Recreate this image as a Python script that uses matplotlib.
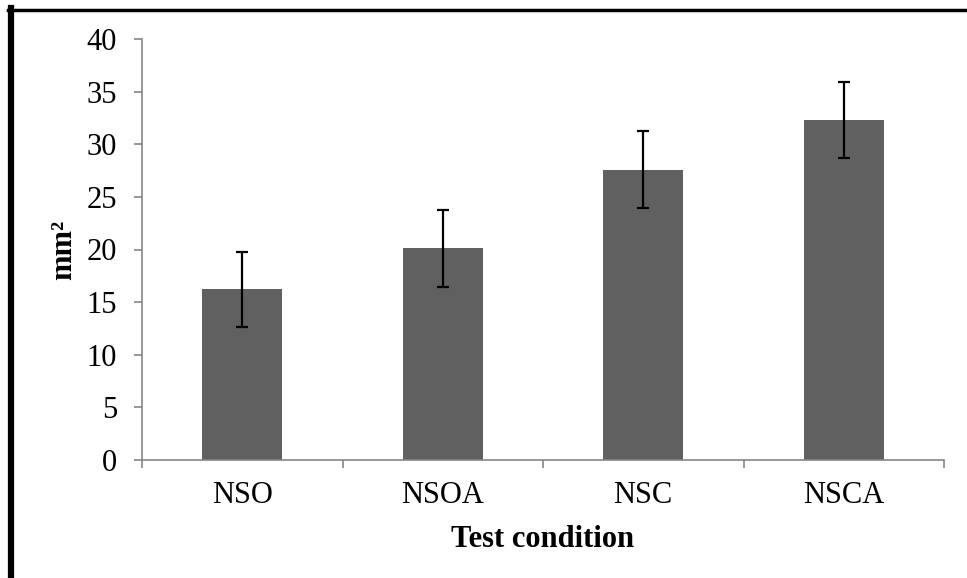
import matplotlib.pyplot as plt
from matplotlib.lines import Line2D
import numpy as np

categories = ['NSO', 'NSOA', 'NSC', 'NSCA']
means = [16.2, 20.1, 27.6, 32.3]
errors = [3.6, 3.65, 3.65, 3.65]
yticks = [0, 5, 10, 15, 20, 25, 30, 35, 40]

plt.rcParams['font.family'] = ['Liberation Serif', 'DejaVu Serif']

fig = plt.figure(figsize=(9.67, 5.78), dpi=100)
W, H = 967, 578
ax = fig.add_axes([142 / W, (H - 460) / H, (944 - 142) / W, (460 - 39) / H])

x = np.arange(len(categories))
ax.bar(x, means, width=0.4, color='#606060', zorder=2)
ax.errorbar(x, means, yerr=errors, fmt='none', ecolor='black',
            elinewidth=1.6, capsize=4.5, capthick=1.6, zorder=3)

ax.set_xlim(-0.5, len(categories) - 0.5)
ax.set_ylim(0, 40)
ax.set_yticks(yticks)
ax.set_xticks(x)
ax.set_xticklabels(categories)
ax.set_xticks(np.arange(len(categories) + 1) - 0.5, minor=True)
ax.tick_params(axis='x', which='major', length=0, pad=15, labelsize=22)
ax.tick_params(axis='x', which='minor', length=6, width=1.2, color='#868686', direction='out')
ax.tick_params(axis='y', length=6, width=1.2, color='#868686', pad=12, labelsize=22)

for side in ['top', 'right']:
    ax.spines[side].set_visible(False)
for side in ['left', 'bottom']:
    ax.spines[side].set_color('#868686')
    ax.spines[side].set_linewidth(1.2)

ax.set_xlabel('Test condition', fontsize=22, fontweight='bold', labelpad=11)
ax.set_ylabel('mm²', fontsize=22, fontweight='bold', labelpad=6)

# border around the picture (only left and top visible)
fig.add_artist(Line2D([11 / W, 11 / W], [0, 1 - 8 / H], transform=fig.transFigure,
                      color='black', lw=4.5))
fig.add_artist(Line2D([8 / W, 1], [1 - 9.5 / H, 1 - 9.5 / H], transform=fig.transFigure,
                      color='black', lw=2.5))

fig.savefig('out.png', dpi=100)
